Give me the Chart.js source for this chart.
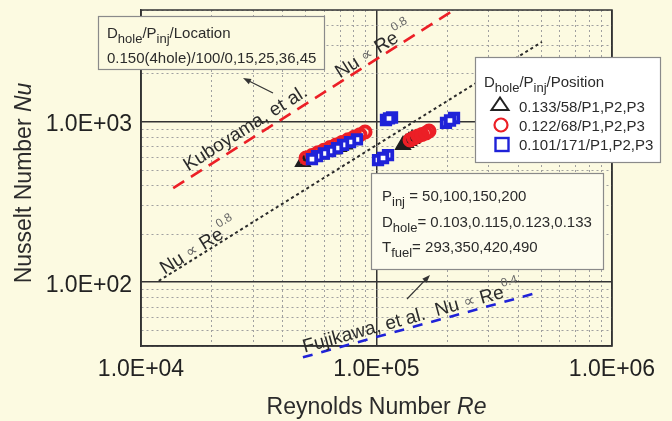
<!DOCTYPE html>
<html>
<head>
<meta charset="utf-8">
<script src="https://cdn.jsdelivr.net/npm/chart.js@4"></script>
<style>
  html, body { margin: 0; padding: 0; background: #fcfae1; }
  #wrap { width: 672px; height: 421px; }
</style>
</head>
<body>
<div id="wrap"><canvas id="chart" width="672" height="421"></canvas></div>
<script>
// ---- axes ----
const xRange = [1e4, 1e6];
const yRange = [40, 5000];
const xMajorTicks = [1e4, 1e5, 1e6];
const xTickLabels = ['1.0E+04', '1.0E+05', '1.0E+06'];
const yMajorTicks = [1e2, 1e3];
const yTickLabels = ['1.0E+02', '1.0E+03'];
const minorSteps = [2, 3, 4, 5, 6, 7, 8, 9];

// ---- measurements (Re, Nu) ----
// D_hole 0.133 / P_inj 58 / P1,P2,P3
const triRe = [48700, 51700, 54800, 58100, 61700, 65400, 69300, 73500, 129600, 133500, 137400, 141500];
const triNu = [562, 583, 604, 626, 649, 673, 698, 723, 718, 739, 761, 783];
// D_hole 0.122 / P_inj 68 / P1,P2,P3
const circRe = [50200, 53200, 56400, 59800, 63500, 67300, 71400, 75700, 80300, 85100, 89400, 138800, 144300, 150100, 156000, 162300, 167100];
const circNu = [596, 618, 642, 667, 692, 718, 746, 774, 804, 834, 866, 772, 794, 818, 835, 854, 879];
// D_hole 0.101 / P_inj 171 / P1,P2,P3
const sqRe = [82600, 77200, 72100, 68000, 63500, 59800, 55900, 53200, 101500, 111900, 106600, 109700, 116400, 113000, 197300, 213400, 205200];
const sqNu = [778, 750, 719, 688, 659, 636, 613, 587, 579, 622, 596, 1029, 1067, 1052, 986, 1059, 1022];

// ---- correlation lines ----
const kuboRe = [13700, 213000];   // Kuboyama, et al.  Nu ~ Re^0.8
const kuboNu = [387, 5000];
const fitRe = [11900, 504000];    // present data  Nu ~ Re^0.8
const fitNu = [102, 3160];
const fujiRe = [48700, 490000];   // Fujikawa, et al.  Nu ~ Re^0.4
const fujiNu = [34, 86.6];

const FONT = "'Liberation Sans', Arial, Helvetica, sans-serif";
const BG = '#fcfae1';
const TXT = '#2b2b2b';
const RED = '#ec1f26';
const BLUE = '#1f22d8';

const pairs = (xs, ys) => xs.map((x, i) => ({ x, y: ys[i] }));
const withMinors = majors => {
  const out = [];
  majors.forEach(m => { out.push(m); minorSteps.forEach(s => out.push(m * s)); });
  return out;
};
const xGrid = withMinors([1e4, 1e5]).concat([1e6]);
const yGrid = [40, 50, 60, 70, 80, 90].concat(withMinors([1e2]), [1e3, 2e3, 3e3, 4e3, 5e3]);
const isMajor = (v, list) => list.some(m => Math.abs(v - m) / m < 1e-6);

// ---- text helpers ----
const seg = (t, size = 15, dy = 0, extra = {}) => Object.assign({ t, size, dy }, extra);
function drawRich(ctx, x, y, segs, align) {
  let w = 0;
  segs.forEach(s => {
    ctx.font = `${s.style || ''} ${s.size}px ${s.family || FONT}`;
    s.w = ctx.measureText(s.t).width;
    w += s.w;
  });
  let cx = align === 'center' ? x - w / 2 : x;
  ctx.textAlign = 'left';
  ctx.textBaseline = 'alphabetic';
  segs.forEach(s => {
    ctx.font = `${s.style || ''} ${s.size}px ${s.family || FONT}`;
    ctx.fillStyle = s.color || TXT;
    ctx.fillText(s.t, cx, y + s.dy);
    cx += s.w;
  });
}
function alongLine(chart, re, nu, atRe, lift, segs) {
  const { ctx } = chart;
  const xs = chart.scales.x, ys = chart.scales.y;
  const x0 = xs.getPixelForValue(re[0]), y0 = ys.getPixelForValue(nu[0]);
  const x1 = xs.getPixelForValue(re[1]), y1 = ys.getPixelForValue(nu[1]);
  const ang = Math.atan2(y1 - y0, x1 - x0);
  const ax = xs.getPixelForValue(atRe);
  const ay = y0 + (ax - x0) / (x1 - x0) * (y1 - y0);
  ctx.save();
  ctx.translate(ax, ay);
  ctx.rotate(ang);
  drawRich(ctx, 0, -lift, segs, 'center');
  ctx.restore();
}
function arrow(ctx, x0, y0, x1, y1) {
  const a = Math.atan2(y1 - y0, x1 - x0);
  ctx.save();
  ctx.strokeStyle = '#333'; ctx.fillStyle = '#333'; ctx.lineWidth = 1.2;
  ctx.beginPath(); ctx.moveTo(x0, y0); ctx.lineTo(x1 - 5 * Math.cos(a), y1 - 5 * Math.sin(a)); ctx.stroke();
  ctx.beginPath();
  ctx.moveTo(x1, y1);
  ctx.lineTo(x1 - 8 * Math.cos(a) + 3 * Math.sin(a), y1 - 8 * Math.sin(a) - 3 * Math.cos(a));
  ctx.lineTo(x1 - 8 * Math.cos(a) - 3 * Math.sin(a), y1 - 8 * Math.sin(a) + 3 * Math.cos(a));
  ctx.closePath(); ctx.fill();
  ctx.restore();
}
function box(ctx, x, y, w, h, fill) {
  ctx.save();
  ctx.fillStyle = fill;
  ctx.fillRect(x, y, w, h);
  ctx.strokeStyle = '#8a8a8a'; ctx.lineWidth = 1.2;
  ctx.strokeRect(x + 0.5, y + 0.5, w, h);
  ctx.restore();
}
const propTo = (sup) => [
  seg('Nu ', 19), seg('\u221D', 16, -1, { color: '#666', family: "'DejaVu Sans', sans-serif" }),
  seg(' Re', 19), seg(sup, 12, -11, { color: '#666' })
];

// ---- plugins ----
const backdrop = {
  id: 'backdrop',
  beforeDraw(chart) {
    const { ctx } = chart;
    ctx.save(); ctx.fillStyle = BG; ctx.fillRect(0, 0, chart.width, chart.height); ctx.restore();
  },
  beforeDatasetsDraw(chart) {
    const { ctx, chartArea: a } = chart;
    ctx.save();
    ctx.strokeStyle = '#333'; ctx.lineWidth = 1.5;
    ctx.strokeRect(a.left, a.top, a.right - a.left, a.bottom - a.top);
    ctx.restore();
  }
};

const notes = {
  id: 'notes',
  afterDatasetsDraw(chart) {
    const { ctx } = chart;

    // labels along the correlation lines
    alongLine(chart, kuboRe, kuboNu, 29500, 6, [seg('Kuboyama, et al.', 19)]);
    alongLine(chart, kuboRe, kuboNu, 102000, 3, propTo('0.8'));
    alongLine(chart, fitRe, fitNu, 18300, 2, propTo('0.8'));
    alongLine(chart, fujiRe, fujiNu, 144000, 4, [seg('Fujikawa, et al.  ', 19)].concat(propTo('0.4')));

    // reference-condition box
    box(ctx, 98, 16, 226, 53, BG);
    drawRich(ctx, 107, 38, [seg('D'), seg('hole', 13, 5), seg('/P'), seg('inj', 13, 5), seg('/Location')]);
    drawRich(ctx, 107, 63, [seg('0.150(4hole)/100/0,15,25,36,45')]);
    arrow(ctx, 273, 93, 243, 78);

    // parameter-range box
    box(ctx, 371, 173, 232, 96, '#fdfcee');
    drawRich(ctx, 382, 201, [seg('P'), seg('inj', 13, 5), seg(' = 50,100,150,200')]);
    drawRich(ctx, 382, 227, [seg('D'), seg('hole', 13, 5), seg('= 0.103,0.115,0.123,0.133')]);
    drawRich(ctx, 382, 252, [seg('T'), seg('fuel', 13, 5), seg('= 293,350,420,490')]);
    arrow(ctx, 407, 299, 430, 275);

    // legend
    box(ctx, 475, 57, 185, 105, '#ffffff');
    drawRich(ctx, 484, 87, [seg('D'), seg('hole', 13, 5), seg('/P'), seg('inj', 13, 5), seg('/Position')]);
    ctx.save();
    ctx.lineWidth = 2;
    ctx.strokeStyle = '#222';
    ctx.beginPath(); ctx.moveTo(491.5, 110); ctx.lineTo(508.5, 110); ctx.lineTo(500, 97.5); ctx.closePath(); ctx.stroke();
    ctx.strokeStyle = RED; ctx.lineWidth = 2.2;
    ctx.beginPath(); ctx.arc(501, 125, 6.5, 0, Math.PI * 2); ctx.stroke();
    ctx.strokeStyle = BLUE; ctx.lineWidth = 2.4;
    ctx.strokeRect(495.5, 138, 13, 13);
    ctx.restore();
    drawRich(ctx, 519, 111.5, [seg('0.133/58/P1,P2,P3')]);
    drawRich(ctx, 519, 130.5, [seg('0.122/68/P1,P2,P3')]);
    drawRich(ctx, 519, 149.5, [seg('0.101/171/P1,P2,P3')]);

    // axis titles
    drawRich(ctx, 376.5, 414, [seg('Reynolds Number ', 23), seg('Re', 23, 0, { style: 'italic' })], 'center');
    ctx.save();
    ctx.translate(31, 183);
    ctx.rotate(-Math.PI / 2);
    drawRich(ctx, 0, 0, [seg('Nusselt Number ', 23), seg('Nu', 23, 0, { style: 'italic' })], 'center');
    ctx.restore();
  }
};

// ---- scales ----
const gridStyle = majors => ({
  drawTicks: false,
  color: c => (c.tick && isMajor(c.tick.value, majors)) ? '#333' : '#a0a0a0',
  lineWidth: c => (c.tick && isMajor(c.tick.value, majors)) ? 1.5 : 1
});
const borderStyle = majors => ({
  display: true, color: '#333', width: 1.5,
  dash: c => (c.tick && !isMajor(c.tick.value, majors)) ? [2, 3] : []
});

new Chart(document.getElementById('chart'), {
  type: 'scatter',
  data: {
    datasets: [
      { label: 'Kuboyama, et al.', data: pairs(kuboRe, kuboNu), showLine: true, borderColor: RED,
        borderWidth: 2.6, borderDash: [13, 8], pointRadius: 0, order: 6 },
      { label: 'Nu ~ Re^0.8', data: pairs(fitRe, fitNu), showLine: true, borderColor: '#2a2a2a',
        borderWidth: 2, borderDash: [3, 3], pointRadius: 0, order: 5 },
      { label: 'Fujikawa, et al.', data: pairs(fujiRe, fujiNu), showLine: true, borderColor: BLUE,
        borderWidth: 2.6, borderDash: [10, 9], pointRadius: 0, order: 4, clip: false },
      { label: '0.133/58/P1,P2,P3', data: pairs(triRe, triNu), pointStyle: 'triangle', pointRadius: 6.5,
        borderWidth: 3.5, borderColor: '#1e1e1e', backgroundColor: 'rgba(0,0,0,0)', order: 3 },
      { label: '0.122/68/P1,P2,P3', data: pairs(circRe, circNu), pointStyle: 'circle', pointRadius: 5.5,
        borderWidth: 4, borderColor: RED, backgroundColor: 'rgba(0,0,0,0)', order: 2 },
      { label: '0.101/171/P1,P2,P3', data: pairs(sqRe, sqNu), pointStyle: 'rect', pointRadius: 6,
        borderWidth: 3.8, borderColor: BLUE, backgroundColor: '#ffffff', order: 1 }
    ]
  },
  options: {
    responsive: false,
    animation: false,
    devicePixelRatio: 1,
    layout: { padding: { top: 10, right: 60, left: 0, bottom: 0 } },
    plugins: { legend: { display: false }, tooltip: { enabled: false } },
    scales: {
      x: {
        type: 'logarithmic', min: xRange[0], max: xRange[1], position: 'bottom',
        afterBuildTicks: s => { s.ticks = xGrid.map(value => ({ value })); },
        afterFit: s => { s.height = 75; s.paddingLeft = 0; s.paddingRight = 0; },
        grid: gridStyle(xMajorTicks),
        border: borderStyle(xMajorTicks),
        ticks: {
          autoSkip: false, maxRotation: 0, padding: 10, color: '#222',
          font: { family: FONT, size: 23 },
          callback: v => { const i = xMajorTicks.findIndex(m => isMajor(v, [m])); return i >= 0 ? xTickLabels[i] : ''; }
        }
      },
      y: {
        type: 'logarithmic', min: yRange[0], max: yRange[1],
        afterBuildTicks: s => { s.ticks = yGrid.map(value => ({ value })); },
        afterFit: s => { s.width = 141; s.paddingTop = 0; s.paddingBottom = 0; },
        grid: gridStyle(yMajorTicks),
        border: borderStyle(yMajorTicks),
        ticks: {
          autoSkip: false, padding: 9, labelOffset: 3, color: '#222',
          font: { family: FONT, size: 23 },
          callback: v => { const i = yMajorTicks.findIndex(m => isMajor(v, [m])); return i >= 0 ? yTickLabels[i] : ''; }
        }
      }
    }
  },
  plugins: [backdrop, notes]
});
</script>
</body>
</html>
